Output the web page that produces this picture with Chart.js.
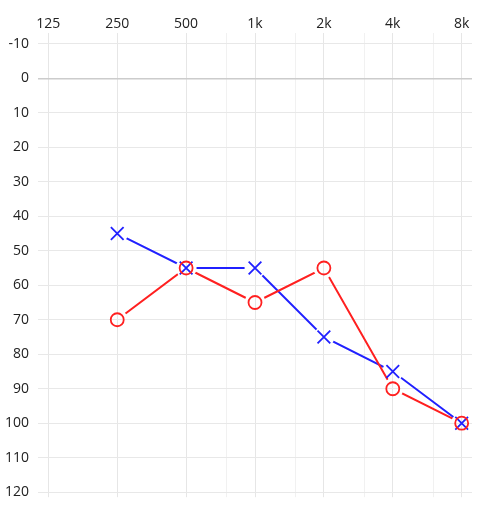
<!DOCTYPE html>
<html>
<head>
<meta charset="utf-8">
<script src="https://cdn.jsdelivr.net/npm/chart.js@4"></script>
<style>
  html, body { margin: 0; padding: 0; background: #fff; }
  #wrap { width: 498px; height: 508px; }
</style>
</head>
<body>
<div id="wrap"><canvas id="myChart"></canvas></div>
<script>
// fréquences (Hz) et seuils (dB)
const frequencies = [250, 500, 1000, 2000, 4000, 8000];
const rightEar = [70, 55, 65, 55, 90, 100];   // O rouge
const leftEar = [45, 55, 55, 75, 85, 100];    // X bleu
const mainTicks = [125, 250, 500, 1000, 2000, 4000, 8000];
const halfTicks = [750, 1500, 3000, 6000];
const tickLabels = {125: '125', 250: '250', 500: '500', 1000: '1k', 2000: '2k', 4000: '4k', 8000: '8k'};
const dbTicks = [-10, 0, 10, 20, 30, 40, 50, 60, 70, 80, 90, 100, 110, 120];

const RED = '#ff2020';
const BLUE = '#2020ff';
const NONE = 'rgba(0,0,0,0)';
const GAP = 10.5;   // rayon du trou autour des marqueurs

const toPoints = (vals) => frequencies.map((f, i) => ({x: f, y: vals[i]}));

const data = {
    datasets: [
        {
            label: 'O',
            data: toPoints(rightEar),
            showLine: false,
            borderColor: NONE,
            pointStyle: 'circle',
            pointRadius: 6.5,
            pointBorderWidth: 1.8,
            pointBorderColor: RED,
            pointBackgroundColor: NONE
        },
        {
            label: 'X',
            data: toPoints(leftEar),
            showLine: false,
            borderColor: NONE,
            pointStyle: 'crossRot',
            pointRadius: 9,
            pointBorderWidth: 1.8,
            pointBorderColor: BLUE
        },
        {
            label: 'droite',
            data: toPoints(rightEar),
            borderColor: RED,
            borderWidth: 2,
            pointRadius: 0
        },
        {
            label: 'gauche',
            data: toPoints(leftEar),
            borderColor: BLUE,
            borderWidth: 2,
            pointRadius: 0
        }
    ]
};
const lineIndexes = [2, 3];

// la ligne s'arrête avant chaque marqueur (clip sans toucher la grille)
const gapPlugin = {
    id: 'gapPlugin',
    beforeDatasetDraw(chart, args) {
        if (!lineIndexes.includes(args.index)) return;
        const ctx = chart.ctx;
        ctx.save();
        ctx.beginPath();
        ctx.rect(0, 0, chart.width, chart.height);
        args.meta.data.forEach(p => {
            ctx.moveTo(p.x + GAP, p.y);
            ctx.arc(p.x, p.y, GAP, 0, Math.PI * 2);
        });
        ctx.clip('evenodd');
    },
    afterDatasetDraw(chart, args) {
        if (lineIndexes.includes(args.index)) chart.ctx.restore();
    }
};

const config = {
    type: 'line',
    data,
    plugins: [gapPlugin],
    options: {
        responsive: true,
        maintainAspectRatio: false,
        animation: false,
        layout: { padding: { top: 16, right: 26, bottom: 0, left: -4 } },
        plugins: {
            legend: { display: false },
            tooltip: { enabled: false }
        },
        scales: {
            x: {
                type: 'logarithmic',
                position: 'top',
                min: 125 / Math.pow(2, 0.15),
                max: 8000 * Math.pow(2, 0.15),
                afterBuildTicks: (scale) => {
                    scale.ticks = mainTicks.concat(halfTicks).sort((a, b) => a - b).map(v => ({value: v}));
                },
                afterFit: (scale) => {
                    scale.paddingLeft = 0;
                    scale.paddingRight = 0;
                },
                border: { display: false },
                grid: {
                    drawTicks: false,
                    tickLength: 0,
                    color: (ctx) => halfTicks.includes(ctx.tick && ctx.tick.value) ? '#f1f1f1' : '#e6e6e6'
                },
                ticks: {
                    autoSkip: false,
                    maxRotation: 0,
                    padding: 0,
                    color: '#222',
                    font: { family: "'Open Sans', sans-serif", size: 14 },
                    callback: (v) => tickLabels[v] || ''
                }
            },
            y: {
                type: 'linear',
                reverse: true,
                min: -13.2,
                max: 121.45,
                afterBuildTicks: (scale) => {
                    scale.ticks = dbTicks.map(v => ({value: v}));
                },
                afterFit: (scale) => {
                    scale.paddingTop = 0;
                    scale.paddingBottom = 0;
                },
                border: { display: false },
                grid: {
                    drawTicks: false,
                    tickLength: 0,
                    color: (ctx) => (ctx.tick && ctx.tick.value === 0) ? '#cccccc' : '#e8e8e8',
                    lineWidth: (ctx) => (ctx.tick && ctx.tick.value === 0) ? 1.5 : 1
                },
                ticks: {
                    autoSkip: false,
                    padding: 9,
                    color: '#222',
                    font: { family: "'Open Sans', sans-serif", size: 14 }
                }
            }
        }
    }
};

const mychart = new Chart(document.getElementById('myChart'), config);
</script>
</body>
</html>
